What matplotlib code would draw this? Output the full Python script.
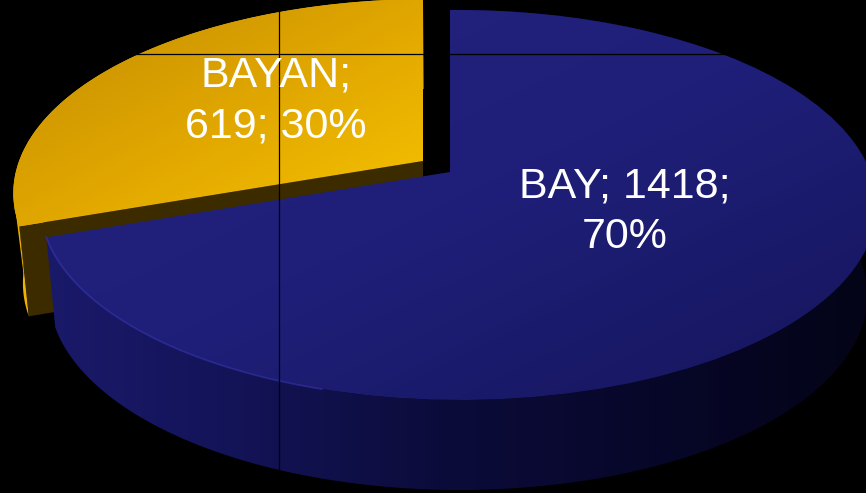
import numpy as np
import matplotlib
matplotlib.use("Agg")
import matplotlib.pyplot as plt
from matplotlib.colors import LinearSegmentedColormap
from matplotlib.patches import Polygon
from matplotlib.transforms import Transform

plt.rcParams['font.family'] = ['Liberation Sans', 'DejaVu Sans']

WIDTH, HEIGHT = 866, 493

# data
names = ["BAY", "BAYAN"]
values = [1418, 619]
label_breaks = [["{n}; {v};", "{p}%"], ["{n};", "{v}; {p}%"]]

# look of the tilted pie
apex = {"BAY": (450, 172), "BAYAN": (423, 161)}
top_cmap = {
    "BAY": ["#24247f", "#1f1f7a", "#15155c"],
    "BAYAN": ["#c08c00", "#e0a600", "#f8c400"],
}
top_extent = {"BAY": (40, 870, 400, 0), "BAYAN": (10, 430, 230, 0)}
label_pos = {"BAY": (625, 212), "BAYAN": (276, 101)}
DEPTH = 90


class TiltedPie(Transform):
    """Perspective view of the unit-circle pie, output in image pixels."""
    input_dims = 2
    output_dims = 2
    is_separable = False
    has_inverse = False

    def __init__(self, centre):
        super().__init__()
        self.centre = centre

    def transform_non_affine(self, xy):
        xy = np.asarray(xy, dtype=float)
        x, y = xy[:, 0], xy[:, 1]
        w = 1 + 0.169 * y - 0.02 * x
        X = 412 * x / w
        Y = 189.4 * y / w
        return np.column_stack([self.centre[0] + X, self.centre[1] - Y])


def extrude(pts):
    """Push rim points down by the pie depth, verticals converge a little."""
    out = pts.copy()
    out[:, 0] = pts[:, 0] - 0.022 * (pts[:, 0] - 450)
    out[:, 1] = pts[:, 1] + DEPTH
    return out


def gradient(ax, colors, clip, extent=(0, WIDTH, HEIGHT, 0), angle=(1, 1), zorder=1):
    """Fill a patch with a linear colour gradient."""
    yy, xx = np.mgrid[0:1:200j, 0:1:200j]
    g = (angle[0] * xx + angle[1] * yy) / (angle[0] + angle[1])
    cmap = LinearSegmentedColormap.from_list("g", colors)
    im = ax.imshow(g, cmap=cmap, extent=extent, aspect="auto",
                   vmin=0, vmax=1, zorder=zorder)
    im.set_clip_path(clip)
    return im


fig = plt.figure(figsize=(WIDTH / 100, HEIGHT / 100), dpi=100, facecolor="black")
ax = fig.add_axes([0, 0, 1, 1])
ax.set_facecolor("black")

wedges, _ = ax.pie(values, startangle=90, counterclock=False, radius=1)

by_name = dict(zip(names, wedges))

for name, z in [("BAYAN", 2), ("BAY", 6)]:
    w = by_name[name]
    tilt = TiltedPie(apex[name])
    th = np.radians(np.linspace(w.theta1, w.theta2, 200))
    rim = tilt.transform(np.column_stack([np.cos(th), np.sin(th)]))
    low = extrude(rim)

    # outer wall
    wall = Polygon(np.vstack([rim, low[::-1]]), closed=True, facecolor="none",
                   edgecolor="none", transform=ax.transData)
    ax.add_patch(wall)
    if name == "BAY":
        gradient(ax, ["#1b1b6e", "#14145a", "#0c0c3c", "#07072a", "#040418"], wall,
                 angle=(1, 0), zorder=z)
    else:
        gradient(ax, ["#f0b400", "#d8a000"], wall, angle=(1, 0), zorder=z)

    # cut face of the yellow slice, plus the sliver of wall left of it
    if name == "BAYAN":
        left = np.argmin(rim[:, 0])
        tip = np.argmin(np.abs(rim[:, 1] - rim[:, 1].max()))
        ax.add_patch(Polygon(np.vstack([rim[left], rim[tip], low[tip]]), closed=True,
                             facecolor="#e8ac00", edgecolor="none", zorder=z))
        edge = np.vstack([apex[name], rim[tip]]).astype(float)
        ax.add_patch(Polygon(np.vstack([edge, extrude(edge)[::-1]]), closed=True,
                             facecolor="#3d2b00", edgecolor="none", zorder=z + 1))

    # top face, the pie wedge itself
    w.set_transform(tilt + ax.transData)
    w.set_facecolor("none")
    w.set_edgecolor("none")
    gradient(ax, top_cmap[name], w, extent=top_extent[name], zorder=z + 2)

    # lighter rim on the front left of the blue slice
    if name == "BAY":
        keep = (rim[:, 0] < 330) & (rim[:, 1] > 230)
        ax.plot(rim[keep, 0], rim[keep, 1], color="#3232a8", lw=1.2, alpha=0.7,
                zorder=z + 3)

# thin black lines crossing the picture
ax.axhline(54, color="black", lw=0.9, zorder=12)
ax.axvline(279, color="black", lw=0.9, zorder=12)

total = sum(values)
for name, value, lines in zip(names, values, label_breaks):
    pct = round(100 * value / total)
    txt = "\n".join(s.format(n=name, v=value, p=pct) for s in lines)
    ax.text(*label_pos[name], txt, color="white", fontsize=31, ha="center",
            va="center", linespacing=1.33, zorder=15)

ax.set_aspect("auto")
ax.set_xlim(0, WIDTH)
ax.set_ylim(HEIGHT, 0)
ax.axis("off")

fig.savefig("out.png", dpi=100, facecolor="black")
